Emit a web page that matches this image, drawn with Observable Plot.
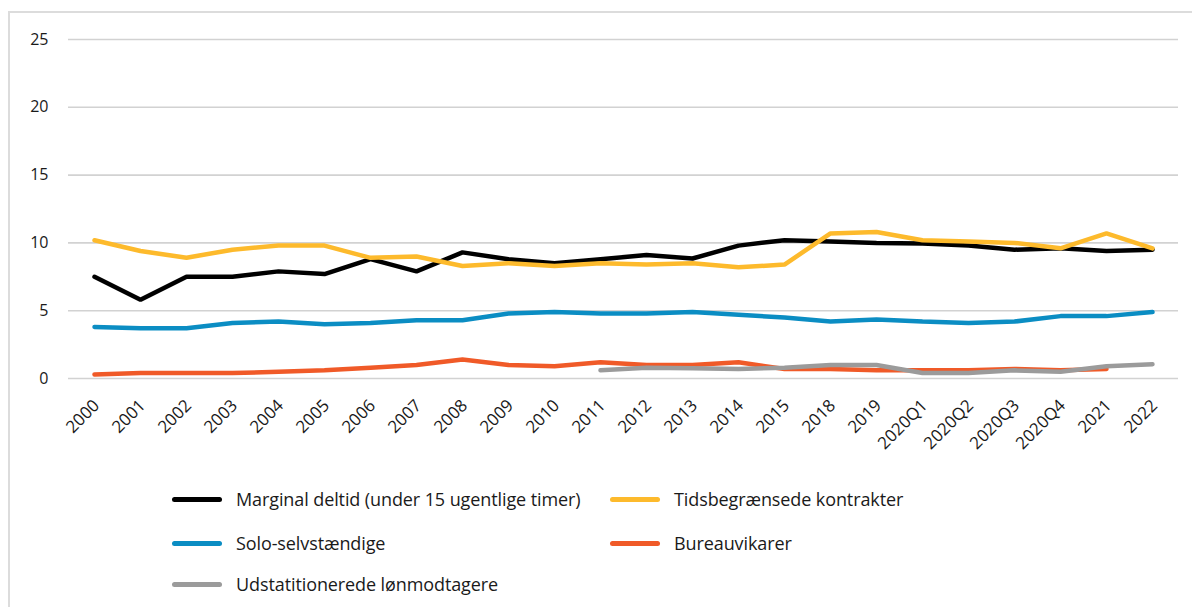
<!DOCTYPE html>
<html>
<head>
<meta charset="utf-8">
<script src="https://cdn.jsdelivr.net/npm/d3@7"></script>
<script src="https://cdn.jsdelivr.net/npm/@observablehq/plot@0.6"></script>
<style>
  html, body { margin: 0; padding: 0; background: #fff; overflow: hidden; width: 1192px; height: 607px; }
  body { position: relative; font-family: "Open Sans", sans-serif; }
  #frame { position: absolute; left: 8px; top: 11px; width: 1200px; height: 620px; border: 2px solid #dcdcdc; box-sizing: border-box; }
  #chart { position: absolute; left: 0; top: 0; }
  #legend { position: absolute; left: 0; top: 0; width: 1192px; height: 607px; pointer-events: none; }
  .item { position: absolute; display: flex; align-items: center; height: 24px; font-size: 18px; letter-spacing: -0.1px; color: #1a1a1a; white-space: nowrap; }
  .sw { width: 50px; height: 5px; border-radius: 2.5px; margin-right: 14px; }
</style>
</head>
<body>
<div id="frame"></div>
<div id="chart"></div>
<div id="legend"></div>
<script>
const categories = ["2000","2001","2002","2003","2004","2005","2006","2007","2008","2009","2010","2011","2012","2013","2014","2015","2018","2019","2020Q1","2020Q2","2020Q3","2020Q4","2021","2022"];

const seriesNames = ["Marginal deltid (under 15 ugentlige timer)", "Tidsbegrænsede kontrakter", "Solo-selvstændige", "Bureauvikarer", "Udstatitionerede lønmodtagere"];
const seriesColors = ["#000000", "#FDBA2C", "#0B8DC3", "#F05A28", "#9B9B9B"];

const marginal = [7.5, 5.8, 7.5, 7.5, 7.9, 7.7, 8.8, 7.9, 9.3, 8.8, 8.5, 8.8, 9.1, 8.85, 9.8, 10.2, 10.1, 10.0, 9.95, 9.8, 9.5, 9.6, 9.4, 9.5];
const tidsbegraensede = [10.2, 9.4, 8.9, 9.5, 9.8, 9.8, 8.9, 9.0, 8.3, 8.5, 8.3, 8.5, 8.4, 8.5, 8.2, 8.4, 10.7, 10.8, 10.2, 10.1, 10.0, 9.6, 10.7, 9.6];
const solo = [3.8, 3.7, 3.7, 4.1, 4.2, 4.0, 4.1, 4.3, 4.3, 4.8, 4.9, 4.8, 4.8, 4.9, 4.7, 4.5, 4.2, 4.35, 4.2, 4.1, 4.2, 4.6, 4.6, 4.9];
const bureau = [0.3, 0.4, 0.4, 0.4, 0.5, 0.6, 0.8, 1.0, 1.4, 1.0, 0.9, 1.2, 1.0, 1.0, 1.2, 0.7, 0.7, 0.6, 0.6, 0.6, 0.7, 0.6, 0.7, null];
const udstationerede = [null, null, null, null, null, null, null, null, null, null, null, 0.6, 0.8, 0.75, 0.7, 0.8, 1.0, 1.0, 0.4, 0.4, 0.6, 0.5, 0.9, 1.05];

const yTicks = [0, 5, 10, 15, 20, 25];

const allSeries = [marginal, tidsbegraensede, solo, bureau, udstationerede];
// drawing order: bottom series first so black/yellow sit on top like the reference
const drawOrder = [3, 4, 2, 0, 1];

const data = [];
drawOrder.forEach(si => {
  allSeries[si].forEach((v, i) => {
    if (v != null) data.push({cat: categories[i], value: v, series: seriesNames[si]});
  });
});

const chart = Plot.plot({
  width: 1192,
  height: 470,
  marginLeft: 68,
  marginRight: 14,
  marginTop: 39,
  marginBottom: 92,
  style: {fontFamily: "'Open Sans', sans-serif", background: "transparent", overflow: "visible"},
  x: {type: "point", domain: categories, padding: 0.5, label: null, axis: null},
  y: {domain: [0, 25], label: null},
  color: {domain: seriesNames, range: seriesColors},
  marks: [
    Plot.ruleY(yTicks, {stroke: "#d2d2d2", strokeWidth: 1.6}),
    Plot.axisY(yTicks, {tickSize: 0, tickPadding: 20, fontSize: 16, fill: "#1a1a1a", label: null}),
    Plot.text(categories, {x: d => d, frameAnchor: "bottom", rotate: -45, textAnchor: "end", dx: 6, dy: 28, fontSize: 17, fill: "#1a1a1a"}),
    Plot.line(data, {x: "cat", y: "value", z: "series", stroke: "series", strokeWidth: 4.5, strokeLinejoin: "miter", strokeLinecap: "round", curve: "linear"})
  ]
});
document.getElementById("chart").appendChild(chart);

const legendPos = [
  {left: 172, top: 487},
  {left: 610, top: 487},
  {left: 172, top: 531},
  {left: 610, top: 531},
  {left: 172, top: 572}
];
const legend = document.getElementById("legend");
seriesNames.forEach((name, i) => {
  const it = document.createElement("div");
  it.className = "item";
  it.style.left = legendPos[i].left + "px";
  it.style.top = legendPos[i].top + "px";
  const sw = document.createElement("div");
  sw.className = "sw";
  sw.style.background = seriesColors[i];
  const tx = document.createElement("span");
  tx.textContent = name;
  it.appendChild(sw);
  it.appendChild(tx);
  legend.appendChild(it);
});
</script>
</body>
</html>
